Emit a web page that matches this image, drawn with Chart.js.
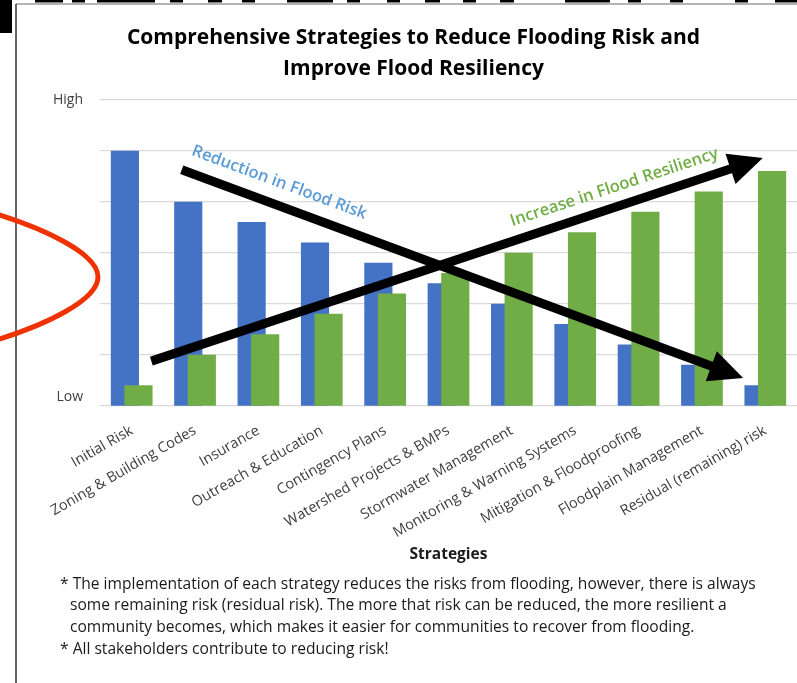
<!DOCTYPE html>
<html>
<head>
<meta charset="utf-8">
<script src="https://cdn.jsdelivr.net/npm/chart.js@4/dist/chart.umd.min.js"></script>
<style>
  html, body { margin: 0; padding: 0; background: #fff; width: 797px; height: 683px; overflow: hidden; }
  #wrap { position: relative; width: 797px; height: 683px; }
  #c { position: absolute; left: 0; top: 0; }
  #deco { position: absolute; left: 0; top: 0; pointer-events: none; }
  #notes { position: absolute; left: 60px; top: 572.5px; width: 735px; font-family: 'Open Sans', sans-serif; font-size: 15.6px; line-height: 21.7px; color: #1a1a1a; }
  #notes p { margin: 0; padding-left: 10px; text-indent: -10px; white-space: nowrap; }
</style>
</head>
<body>
<div id="wrap">
  <canvas id="c" width="797" height="683"></canvas>
  <svg id="deco" width="797" height="683"></svg>
  <div id="notes">
    <p>* The implementation of each strategy reduces the risks from flooding, however, there is always<br>some remaining risk (residual risk). The more that risk can be reduced, the more resilient a<br>community becomes, which makes it easier for communities to recover from flooding.</p>
    <p>* All stakeholders contribute to reducing risk!</p>
  </div>
</div>
<script>
// ---- data ----
const categories = ['Initial Risk', 'Zoning & Building Codes', 'Insurance', 'Outreach & Education',
  'Contingency Plans', 'Watershed Projects & BMPs', 'Stormwater Management',
  'Monitoring & Warning Systems', 'Mitigation & Floodproofing', 'Floodplain Management',
  'Residual (remaining) risk'];
const floodRisk = [5.0, 4.0, 3.6, 3.2, 2.8, 2.4, 2.0, 1.6, 1.2, 0.8, 0.4];
const floodResiliency = [0.4, 1.0, 1.4, 1.8, 2.2, 2.6, 3.0, 3.4, 3.8, 4.2, 4.6];
const yTickValues = [0, 0.18, 1, 2, 3, 4, 5, 6];
const yTickLabels = { 0.18: 'Low', 6: 'High' };
const titleLines = ['Comprehensive Strategies to Reduce Flooding Risk and', 'Improve Flood Resiliency'];
const xAxisTitle = 'Strategies';
// bar side offset within each category (fraction of category width)
const seriesShift = 0.107;
// annotation arrows in data units (category index, value)
const arrowRiskFrom = [0.79, 4.63];
const arrowRiskTo = [9.65, 0.55];
const arrowResFrom = [0.31, 0.88];
const arrowResTo = [9.96, 4.86];
const arrowRiskText = 'Reduction in Flood Risk';
const arrowResText = 'Increase in Flood Resiliency';

// ---- decorations (frame, marks, red annotation) ----
(function () {
  const svg = document.getElementById('deco');
  const ns = 'http://www.w3.org/2000/svg';
  function el(tag, attrs) { const e = document.createElementNS(ns, tag); for (const k in attrs) e.setAttribute(k, attrs[k]); svg.appendChild(e); return e; }
  el('line', { x1: 16, y1: 4, x2: 797, y2: 4, stroke: '#6b6b6b', 'stroke-width': 1.2 });
  el('line', { x1: 16, y1: 4, x2: 16, y2: 683, stroke: '#333', 'stroke-width': 1.5 });
  el('rect', { x: 0, y: 0, width: 12, height: 33, fill: '#000' });
  const dashes = [[35,63],[72,85],[97,155],[170,183],[208,222],[242,255],[287,333],[347,360],[387,400],
                  [425,440],[463,476],[500,514],[565,610],[628,641],[670,683],[735,748],[775,797]];
  dashes.forEach(d => el('rect', { x: d[0], y: 0, width: d[1] - d[0], height: 2.5, fill: '#000' }));
  el('path', { d: 'M -10 212 C 50 230 98 255 98 277 C 98 299 50 324 -10 342', fill: 'none', stroke: '#EE3300', 'stroke-width': 5 });
})();

// ---- arrows plugin ----
const arrowsPlugin = {
  id: 'arrows',
  afterDatasetsDraw(chart) {
    const ctx = chart.ctx, xs = chart.scales.x, ys = chart.scales.y;
    function P(p) { return [xs.getPixelForValue(p[0]), ys.getPixelForValue(p[1])]; }
    function arrow(from, to, text, color, frac, off, size) {
      const a = P(from), b = P(to);
      const ang = Math.atan2(b[1] - a[1], b[0] - a[0]);
      const headLen = 34, headHalf = 16;
      const bx = b[0] - headLen * Math.cos(ang), by = b[1] - headLen * Math.sin(ang);
      ctx.save();
      ctx.strokeStyle = '#000'; ctx.fillStyle = '#000'; ctx.lineWidth = 9; ctx.lineCap = 'butt';
      ctx.beginPath(); ctx.moveTo(a[0], a[1]); ctx.lineTo(bx + 2 * Math.cos(ang), by + 2 * Math.sin(ang)); ctx.stroke();
      ctx.beginPath(); ctx.moveTo(b[0], b[1]);
      ctx.lineTo(bx - headHalf * Math.sin(ang), by + headHalf * Math.cos(ang));
      ctx.lineTo(bx + headHalf * Math.sin(ang), by - headHalf * Math.cos(ang));
      ctx.closePath(); ctx.fill();
      const tx = a[0] + (b[0] - a[0]) * frac, ty = a[1] + (b[1] - a[1]) * frac;
      const px = tx + off * Math.sin(ang), py = ty - off * Math.cos(ang);
      ctx.translate(px, py); ctx.rotate(ang);
      ctx.fillStyle = color; ctx.font = '600 ' + size + 'px "Open Sans"';
      ctx.textAlign = 'center'; ctx.textBaseline = 'middle';
      ctx.fillText(text, 0, 0);
      ctx.restore();
    }
    arrow(arrowRiskFrom, arrowRiskTo, arrowRiskText, '#5B9BD5', 0.16, 22, 16.5);
    arrow(arrowResFrom, arrowResTo, arrowResText, '#70AD47', 0.767, 19, 16.5);
  }
};

const riskPoints = floodRisk.map((v, i) => ({ x: i - seriesShift, y: v }));
const resPoints = floodResiliency.map((v, i) => ({ x: i + seriesShift, y: v }));

new Chart(document.getElementById('c'), {
  type: 'bar',
  data: {
    datasets: [
      { label: 'Flood Risk', data: riskPoints, backgroundColor: '#4472C4', order: 1, grouped: false, barThickness: 27.5 },
      { label: 'Flood Resiliency', data: resPoints, backgroundColor: '#70AD47', order: 0, grouped: false, barThickness: 27.5 }
    ]
  },
  options: {
    responsive: false,
    animation: false,
    layout: { padding: { left: 30, right: 0, top: 0, bottom: 119 } },
    plugins: {
      legend: { display: false },
      tooltip: { enabled: false },
      title: {
        display: true, text: titleLines, color: '#000',
        font: { family: 'Open Sans', size: 21, weight: 'bold', lineHeight: 1.48 },
        padding: { top: 22.5, bottom: 15.3 }
      }
    },
    scales: {
      x: {
        type: 'linear',
        offset: false,
        min: -0.5, max: categories.length - 0.5,
        grid: { display: false, offset: false },
        border: { display: false },
        afterBuildTicks(s) { s.ticks = categories.map((c, i) => ({ value: i })); },
        ticks: { autoSkip: false, minRotation: 30, maxRotation: 30, padding: 8, color: '#404040',
                 font: { family: 'Open Sans', size: 14.5 }, callback: v => categories[v] },
        title: { display: true, text: xAxisTitle, color: '#1a1a1a', font: { family: 'Open Sans', size: 15.5, weight: 'bold' }, padding: 0 },
        afterFit(s) { s.height = 158; }
      },
      y: {
        min: 0, max: 6,
        border: { display: false },
        grid: { drawTicks: false, color: ctx => (ctx.tick && ctx.tick.value === 0.18) ? 'rgba(0,0,0,0)' : '#d9d9d9', lineWidth: 1.3 },
        afterBuildTicks(s) { s.ticks = yTickValues.map(v => ({ value: v })); },
        ticks: { padding: 17, color: '#404040', font: { family: 'Open Sans', size: 14 }, callback: v => yTickLabels[v] || '' },
        afterFit(s) { s.width = 70; }
      }
    }
  },
  plugins: [arrowsPlugin]
});
</script>
</body>
</html>
